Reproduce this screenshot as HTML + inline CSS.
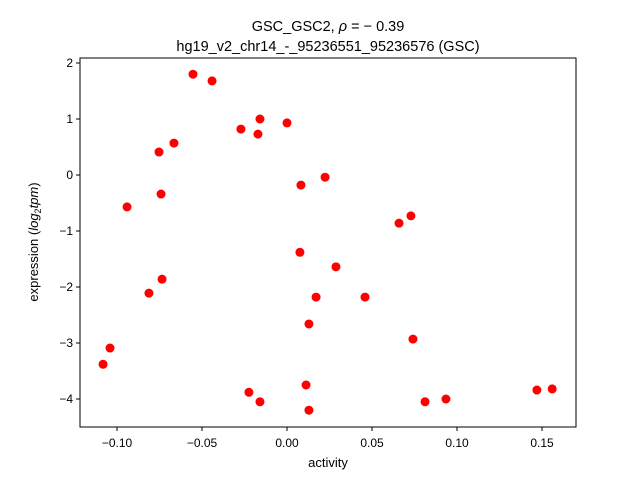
<!DOCTYPE html>
<html><head><meta charset="utf-8"><style>body{margin:0;background:#fff}svg{display:block;font-family:"Liberation Sans","DejaVu Sans",sans-serif}</style></head>
<body>
<svg id="chart" width="640" height="480">
<rect x="0" y="0" width="640" height="480" fill="#fff"/>
<text x="328" y="31" font-size="14.5" text-anchor="middle">GSC_GSC2, <tspan font-style="italic">ρ</tspan> = − 0.39</text>
<text x="328" y="51" font-size="14.5" text-anchor="middle">hg19_v2_chr14_-_95236551_95236576 (GSC)</text>
<g id="ticks"></g>
<g id="points"></g>
<rect x="80" y="58" width="496" height="369" fill="none" stroke="#000" stroke-width="1"/>
<text x="328" y="467" font-size="13" text-anchor="middle">activity</text>
<text transform="translate(38,242) rotate(-90)" font-size="13" text-anchor="middle">expression (<tspan font-style="italic">log</tspan><tspan font-size="9" dy="3">2</tspan><tspan dy="-3" font-style="italic">tpm</tspan>)</text>
</svg>
<script>
const xs=[-0.0553,-0.0441,-0.0159,-0.0271,-0.0171,0.0,-0.0753,-0.0665,-0.0741,-0.0941,0.0082,0.0224,0.0659,0.0729,0.0076,0.0288,-0.0735,-0.0812,0.0171,0.0459,0.0129,0.0741,-0.1041,-0.1082,-0.0224,-0.0159,0.0112,0.0129,0.0812,0.0935,0.1470,0.1560];
const ys=[1.80,1.68,1.0,0.82,0.73,0.93,0.41,0.57,-0.34,-0.57,-0.18,-0.04,-0.86,-0.73,-1.38,-1.64,-1.86,-2.11,-2.18,-2.18,-2.66,-2.93,-3.09,-3.38,-3.88,-4.05,-3.75,-4.20,-4.05,-4.0,-3.84,-3.82];
const xTicks=[-0.10,-0.05,0.00,0.05,0.10,0.15];
const xTickLabels=["−0.10","−0.05","0.00","0.05","0.10","0.15"];
const yTicks=[2,1,0,-1,-2,-3,-4];
const yTickLabels=["2","1","0","−1","−2","−3","−4"];
const NS="http://www.w3.org/2000/svg";
const sx=v=>287+v*1700, sy=v=>175-v*56;
const tg=document.getElementById('ticks'), pg=document.getElementById('points');
function mk(tag,a,p){const e=document.createElementNS(NS,tag);for(const k in a)e.setAttribute(k,a[k]);p.appendChild(e);return e;}
xTicks.forEach((t,i)=>{const x=sx(t);
const l=mk('line',{x1:x,x2:x,y1:427,y2:431,stroke:'#000'},tg);


const tx=mk('text',{x:x,y:447,'font-size':12,'text-anchor':'middle'},tg);tx.textContent=xTickLabels[i];

});
yTicks.forEach((t,i)=>{const y=sy(t);
const l=mk('line',{x1:76,x2:80,y1:y,y2:y,stroke:'#000'},tg);


const tx=mk('text',{x:73,y:y+4,'font-size':12,'text-anchor':'end'},tg);tx.textContent=yTickLabels[i];

});
xs.forEach((v,i)=>{const c=mk('circle',{cx:sx(v),cy:sy(ys[i]),r:4.5,fill:'#ff0000'},pg);

});
</script>
</body></html>
